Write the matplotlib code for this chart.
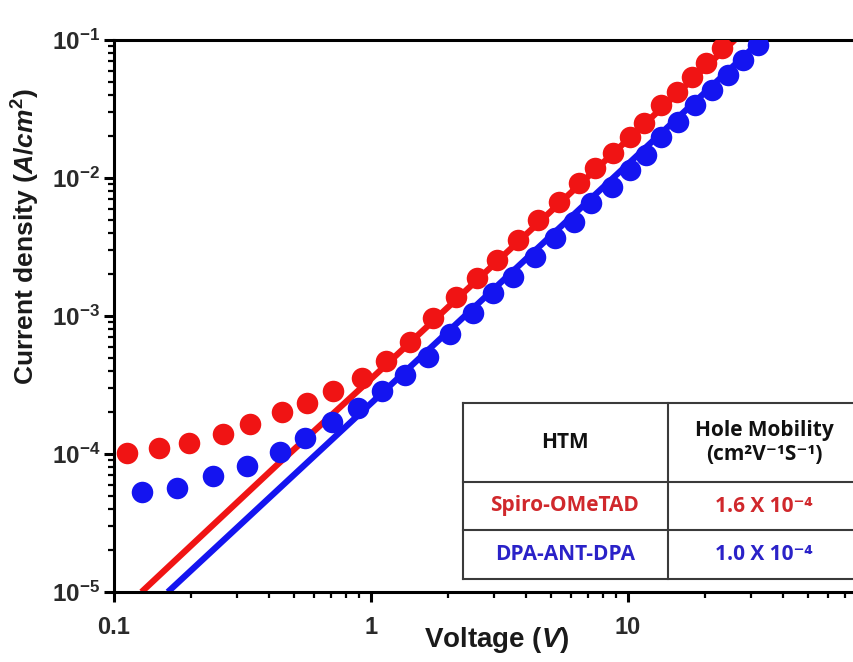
import matplotlib
matplotlib.use('Agg')
import matplotlib.pyplot as plt
from matplotlib.ticker import FixedLocator, FixedFormatter, LogLocator, NullFormatter

# ---------------- data ----------------
spiro_v = [0.112, 0.149, 0.195, 0.265, 0.338, 0.449, 0.565, 0.713, 0.920, 1.14,
           1.42, 1.74, 2.15, 2.58, 3.10, 3.74, 4.48, 5.41, 6.47, 7.44,
           8.77, 10.2, 11.5, 13.5, 15.5, 17.7, 20.2, 23.2]
spiro_j = [1.01e-4, 1.10e-4, 1.21e-4, 1.40e-4, 1.65e-4, 2.00e-4, 2.33e-4, 2.88e-4, 3.57e-4, 4.72e-4,
           6.44e-4, 9.75e-4, 1.38e-3, 1.88e-3, 2.55e-3, 3.56e-3, 4.96e-3, 6.73e-3, 9.16e-3, 1.18e-2,
           1.51e-2, 1.99e-2, 2.49e-2, 3.38e-2, 4.22e-2, 5.42e-2, 6.78e-2, 8.71e-2]

dpa_v = [0.128, 0.176, 0.242, 0.328, 0.443, 0.553, 0.703, 0.893, 1.10, 1.36,
         1.67, 2.03, 2.50, 2.98, 3.58, 4.35, 5.20, 6.17, 7.18, 8.63,
         10.2, 11.8, 13.5, 15.7, 18.2, 21.2, 24.5, 28.1, 32.1]
dpa_j = [5.33e-5, 5.70e-5, 6.93e-5, 8.18e-5, 1.04e-4, 1.31e-4, 1.71e-4, 2.14e-4, 2.86e-4, 3.74e-4,
         5.07e-4, 7.41e-4, 1.05e-3, 1.46e-3, 1.93e-3, 2.69e-3, 3.66e-3, 4.82e-3, 6.56e-3, 8.65e-3,
         1.14e-2, 1.47e-2, 1.99e-2, 2.56e-2, 3.38e-2, 4.34e-2, 5.58e-2, 7.16e-2, 9.20e-2]

spiro_fit_v = [0.128, 0.43, 1.0, 26.0]
spiro_fit_j = [1.0e-5, 8.3e-5, 3.5e-4, 1.0e-1]
dpa_fit_v = [0.162, 0.853, 1.0, 33.0]
dpa_fit_j = [1.0e-5, 1.77e-4, 2.33e-4, 1.0e-1]

x_ticks = [0.1, 1, 10]
x_tick_labels = ['0.1', '1', '10']
y_ticks = [1e-5, 1e-4, 1e-3, 1e-2, 1e-1]
y_tick_labels = [r'$10^{-5}$', r'$10^{-4}$', r'$10^{-3}$', r'$10^{-2}$', r'$10^{-1}$']

table_header = ['HTM', 'Hole Mobility\n(cm²V⁻¹S⁻¹)']
htm_names = ['Spiro-OMeTAD', 'DPA-ANT-DPA']
hole_mobility = ['1.6 X 10⁻⁴', '1.0 X 10⁻⁴']

RED = '#f01414'
BLUE = '#1414f0'
TXT_RED = '#d0282c'
TXT_BLUE = '#2a22c8'

# ---------------- style ----------------
plt.rcParams['font.family'] = ['Liberation Sans', 'DejaVu Sans']
plt.rcParams['mathtext.fontset'] = 'custom'
plt.rcParams['mathtext.rm'] = 'Liberation Sans:bold'
plt.rcParams['mathtext.bf'] = 'Liberation Sans:bold'
plt.rcParams['mathtext.it'] = 'Liberation Sans:italic:bold'

W, H = 854, 662
fig = plt.figure(figsize=(W / 100, H / 100), dpi=100)
ax = fig.add_axes([114 / W, 70 / H, 771 / W, 552 / H])

ax.plot(dpa_fit_v, dpa_fit_j, color=BLUE, lw=4.5, solid_capstyle='butt', zorder=2)
ax.plot(spiro_fit_v, spiro_fit_j, color=RED, lw=4.5, solid_capstyle='butt', zorder=2)
ax.plot(dpa_v, dpa_j, 'o', color=BLUE, ms=15.5, mew=0, zorder=3)
ax.plot(spiro_v, spiro_j, 'o', color=RED, ms=15.5, mew=0, zorder=4)

ax.set_xscale('log')
ax.set_yscale('log')
ax.set_xlim(0.1, 100)
ax.set_ylim(1e-5, 1e-1)

ax.xaxis.set_major_locator(FixedLocator(x_ticks + [100]))
ax.xaxis.set_major_formatter(FixedFormatter(x_tick_labels + ['']))
ax.yaxis.set_major_locator(FixedLocator(y_ticks))
ax.yaxis.set_major_formatter(FixedFormatter(y_tick_labels))
ax.xaxis.set_minor_locator(LogLocator(base=10, subs=range(2, 10), numticks=20))
ax.yaxis.set_minor_locator(LogLocator(base=10, subs=range(2, 10), numticks=20))
ax.xaxis.set_minor_formatter(NullFormatter())
ax.yaxis.set_minor_formatter(NullFormatter())

for s in ax.spines.values():
    s.set_linewidth(2.2)
ax.tick_params(which='major', direction='out', length=7, width=2.2, top=False, right=False)
ax.tick_params(which='minor', direction='out', length=4.5, width=1.6, top=False, right=False)
ax.tick_params(axis='x', which='major', labelsize=17, pad=10, labelcolor='#2a2a2a')
ax.tick_params(axis='y', which='major', labelsize=17.5, pad=3, labelcolor='#2a2a2a')
for lbl in ax.get_xticklabels():
    lbl.set_fontweight('bold')

ax.set_xlabel(r'Voltage $(V)$', fontsize=20, fontweight='bold', color='#1a1a1a')
ax.xaxis.set_label_coords((497 - 114) / 771, (592 - 625) / 552)
ax.set_ylabel(r'Current density $(A/cm^2)$', fontsize=19, fontweight='bold', color='#1a1a1a')
ax.yaxis.set_label_coords((42 - 114) / 771, (592 - 236) / 552)

# ---------------- table (drawn in figure pixel space) ----------------
def fx(px):
    return px / W

def fy(py):
    return 1 - py / H

tab_left, tab_mid, tab_right = 463, 668, 900
row_edges = [403, 482, 530, 579]
col_centers = [565, 764]
line_kw = dict(color='#3a3a3a', lw=1.5, transform=fig.transFigure, zorder=6)
for ry in row_edges:
    fig.add_artist(plt.Line2D([fx(tab_left), fx(tab_right)], [fy(ry), fy(ry)], **line_kw))
for cx in (tab_left, tab_mid):
    fig.add_artist(plt.Line2D([fx(cx), fx(cx)], [fy(row_edges[0]), fy(row_edges[-1])], **line_kw))

rows = [table_header,
        [htm_names[0], hole_mobility[0]],
        [htm_names[1], hole_mobility[1]]]
colors = ['#111111', TXT_RED, TXT_BLUE]
for r, row in enumerate(rows):
    cy = (row_edges[r] + row_edges[r + 1]) / 2
    for c, txt in enumerate(row):
        fig.text(fx(col_centers[c]), fy(cy), txt, ha='center', va='center',
                 fontsize=15, fontweight='bold', color=colors[r],
                 family=['Open Sans', 'DejaVu Sans'], linespacing=1.15, zorder=7)

fig.savefig('out.png', dpi=100)
